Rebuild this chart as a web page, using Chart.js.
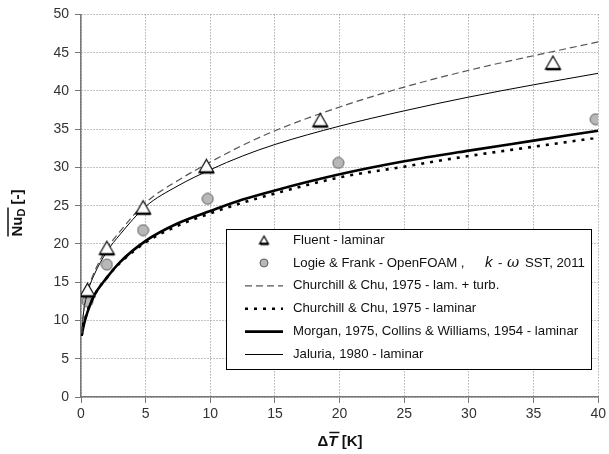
<!DOCTYPE html>
<html>
<head>
<meta charset="utf-8">
<script src="https://cdn.jsdelivr.net/npm/chart.js@4"></script>
<style>
  html, body { margin: 0; padding: 0; background: #fff; }
  #chart { display: block; }
</style>
</head>
<body>
<canvas id="chart" width="609" height="454"></canvas>
<script>
// values
const fluentX = [0.5, 2, 4.8, 9.7, 18.5, 36.5];
const fluentY = [14.0, 19.5, 24.8, 30.2, 36.2, 43.7];

const logieX = [0.5, 2, 4.8, 9.8, 19.9, 39.8];
const logieY = [12.5, 17.3, 21.8, 25.9, 30.6, 36.3];

const curveX       = [0.05, 0.2, 0.5, 1, 2, 3, 5, 7.5, 10, 12.5, 15, 20, 25, 30, 35, 40];
const churchillLT  = [8.3, 11.2, 13.8, 16.2, 19.4, 21.6, 25.4, 28.3, 30.7, 32.9, 34.8, 37.9, 40.5, 42.7, 44.6, 46.4];
const churchillLam = [8.0, 9.4, 11.2, 13.2, 15.6, 17.5, 20.2, 22.4, 24.0, 25.4, 26.6, 28.7, 30.1, 31.5, 32.7, 33.9];
const morgan       = [8.0, 9.3, 11.1, 13.2, 15.6, 17.6, 20.4, 22.7, 24.3, 25.8, 27.0, 29.1, 30.8, 32.2, 33.5, 34.8];
const jaluria      = [8.3, 11.1, 13.6, 15.9, 19.0, 21.2, 24.9, 27.6, 29.7, 31.5, 33.0, 35.4, 37.4, 39.2, 40.8, 42.3];

const xTicks = [0, 5, 10, 15, 20, 25, 30, 35, 40];
const yTicks = [0, 5, 10, 15, 20, 25, 30, 35, 40, 45, 50];

const pts = (xs, ys) => xs.map((x, i) => ({ x: x, y: ys[i] }));

function triangleIcon(size) {
    const c = document.createElement('canvas');
    c.width = size + 4; c.height = size + 4;
    const g = c.getContext('2d');
    const h = size * 0.87;
    const top = (c.height - h) / 2;
    g.beginPath();
    g.moveTo(c.width / 2, top);
    g.lineTo(c.width / 2 + size / 2, top + h);
    g.lineTo(c.width / 2 - size / 2, top + h);
    g.closePath();
    g.fillStyle = '#fff';
    g.fill();
    g.strokeStyle = '#000';
    g.lineWidth = 1.2;
    g.stroke();
    // heavy bottom edge like the original
    g.beginPath();
    g.moveTo(c.width / 2 - size / 2 + 1, top + h);
    g.lineTo(c.width / 2 + size / 2, top + h);
    g.lineWidth = 2.5;
    g.stroke();
    return c;
}

function circleIcon(size) {
    const c = document.createElement('canvas');
    c.width = size + 2; c.height = size + 2;
    const g = c.getContext('2d');
    g.beginPath();
    g.arc(c.width / 2, c.height / 2, size / 2, 0, Math.PI * 2);
    g.fillStyle = '#b8b8b8';
    g.fill();
    g.strokeStyle = '#5a5a5a';
    g.lineWidth = 1;
    g.stroke();
    return c;
}

const triBig = triangleIcon(15), triSmall = triangleIcon(9);
const cirBig = circleIcon(11), cirSmall = circleIcon(8);

const legendItems = [
    { icon: triSmall, text: 'Fluent - laminar' },
    { icon: cirSmall, text: 'Logie & Frank - OpenFOAM ,', extra: true },
    { line: { color: '#555', width: 1.2, dash: [7, 4] }, text: 'Churchill & Chu, 1975 - lam. + turb.' },
    { line: { color: '#000', width: 2.6, dash: [3, 6] }, text: 'Churchill & Chu, 1975 - laminar' },
    { line: { color: '#000', width: 2.6, dash: [] }, text: 'Morgan, 1975, Collins & Williams, 1954 - laminar' },
    { line: { color: '#000', width: 1, dash: [] }, text: 'Jaluria, 1980 - laminar' }
];

const extrasPlugin = {
    id: 'extras',
    afterDraw(chart) {
        const ctx = chart.ctx;
        ctx.save();
        // legend box
        const bx = 226, by = 229, bw = 365, bh = 140;
        ctx.fillStyle = '#fff';
        ctx.fillRect(bx, by, bw, bh);
        ctx.strokeStyle = '#000';
        ctx.lineWidth = 1;
        ctx.strokeRect(bx + 0.5, by + 0.5, bw, bh);
        ctx.textBaseline = 'middle';
        const font = '13.2px "Liberation Sans", Arial, sans-serif';
        legendItems.forEach((it, i) => {
            const y = 240 + i * 22.9;
            if (it.icon) {
                ctx.drawImage(it.icon, 264 - it.icon.width / 2, y - it.icon.height / 2);
            } else {
                ctx.beginPath();
                ctx.setLineDash(it.line.dash);
                ctx.strokeStyle = it.line.color;
                ctx.lineWidth = it.line.width;
                ctx.moveTo(245, y);
                ctx.lineTo(283, y);
                ctx.stroke();
                ctx.setLineDash([]);
            }
            ctx.fillStyle = '#111';
            ctx.font = font;
            ctx.textAlign = 'left';
            ctx.fillText(it.text, 293, y);
            if (it.extra) {
                ctx.font = 'italic 15px "Liberation Sans", Arial, sans-serif';
                ctx.fillText('k', 485, y);
                ctx.font = font;
                ctx.fillText('-', 498, y);
                ctx.font = 'italic 15px "DejaVu Serif", serif';
                ctx.fillText('\u03c9', 507, y);
                ctx.font = font;
                ctx.fillText('SST, 2011', 525, y);
            }
        });

        // x axis title: ΔT [K] with overline on T
        ctx.fillStyle = '#111';
        ctx.strokeStyle = '#111';
        ctx.textBaseline = 'alphabetic';
        ctx.textAlign = 'left';
        const bold = 'bold 15px "Liberation Sans", Arial, sans-serif';
        const boldIt = 'italic bold 15px "Liberation Sans", Arial, sans-serif';
        ctx.font = bold;
        const wD = ctx.measureText('\u0394').width;
        ctx.font = boldIt;
        const wT = ctx.measureText('T').width;
        ctx.font = bold;
        const wK = ctx.measureText(' [K]').width;
        let tx = 340 - (wD + wT + wK) / 2;
        const ty = 446;
        ctx.fillText('\u0394', tx, ty);
        tx += wD;
        ctx.font = boldIt;
        ctx.fillText('T', tx, ty);
        ctx.lineWidth = 1.5;
        ctx.beginPath();
        ctx.moveTo(tx + 1, ty - 13.5);
        ctx.lineTo(tx + wT + 2, ty - 13.5);
        ctx.stroke();
        tx += wT;
        ctx.font = bold;
        ctx.fillText(' [K]', tx, ty);

        // y axis title: Nu_D [-] with overline, rotated
        ctx.translate(22, 213);
        ctx.rotate(-Math.PI / 2);
        ctx.font = bold;
        const wNu = ctx.measureText('Nu').width;
        ctx.font = 'bold 11px "Liberation Sans", Arial, sans-serif';
        const wSub = ctx.measureText('D').width;
        ctx.font = bold;
        const wB = ctx.measureText(' [-]').width;
        let sx = -(wNu + wSub + wB) / 2;
        ctx.fillText('Nu', sx, 0);
        ctx.beginPath();
        ctx.moveTo(sx, -14);
        ctx.lineTo(sx + wNu + wSub + 1, -14);
        ctx.stroke();
        sx += wNu;
        ctx.font = 'bold 11px "Liberation Sans", Arial, sans-serif';
        ctx.fillText('D', sx, 3);
        sx += wSub;
        ctx.font = bold;
        ctx.fillText(' [-]', sx, 0);
        ctx.restore();
    }
};

const lineDs = (label, ys, color, width, dash) => ({
    type: 'line',
    label: label,
    data: pts(curveX, ys),
    borderColor: color,
    borderWidth: width,
    borderDash: dash,
    pointRadius: 0,
    fill: false,
    cubicInterpolationMode: 'monotone'
});

const gridOpts = { color: '#888', lineWidth: 1, tickLength: 6, tickColor: '#777', tickBorderDash: [], tickWidth: 1 };
const borderOpts = { color: '#777', width: 1.5, dash: [1, 2] };
const tickFont = { size: 14, family: '"Liberation Sans", Arial' };

new Chart(document.getElementById('chart').getContext('2d'), {
    type: 'scatter',
    data: {
        datasets: [
            { label: 'Fluent - laminar', data: pts(fluentX, fluentY), pointStyle: triBig, order: 0 },
            { label: 'Logie & Frank - OpenFOAM , k - \u03c9 SST, 2011', data: pts(logieX, logieY), pointStyle: cirBig, order: 1 },
            lineDs('Churchill & Chu, 1975 - lam. + turb.', churchillLT, '#555', 1.2, [7, 4]),
            lineDs('Churchill & Chu, 1975 - laminar', churchillLam, '#000', 2.6, [3, 6]),
            lineDs('Morgan, 1975, Collins & Williams, 1954 - laminar', morgan, '#000', 2.6, []),
            lineDs('Jaluria, 1980 - laminar', jaluria, '#000', 1, [])
        ]
    },
    options: {
        responsive: false,
        animation: false,
        devicePixelRatio: 1,
        layout: { padding: { top: 14, right: 10, left: 0, bottom: 0 } },
        plugins: { legend: { display: false }, tooltip: { enabled: false } },
        scales: {
            x: {
                type: 'linear', min: 0, max: 40,
                afterBuildTicks: s => { s.ticks = xTicks.map(v => ({ value: v })); },
                afterFit: s => { s.height = 57; },
                ticks: { color: '#333', font: tickFont, padding: 3, maxRotation: 0 },
                grid: gridOpts,
                border: borderOpts
            },
            y: {
                type: 'linear', min: 0, max: 50,
                afterBuildTicks: s => { s.ticks = yTicks.map(v => ({ value: v })); },
                afterFit: s => { s.width = 81; },
                ticks: { color: '#333', font: tickFont, padding: 6 },
                grid: gridOpts,
                border: borderOpts
            }
        }
    },
    plugins: [extrasPlugin]
});
</script>
</body>
</html>
